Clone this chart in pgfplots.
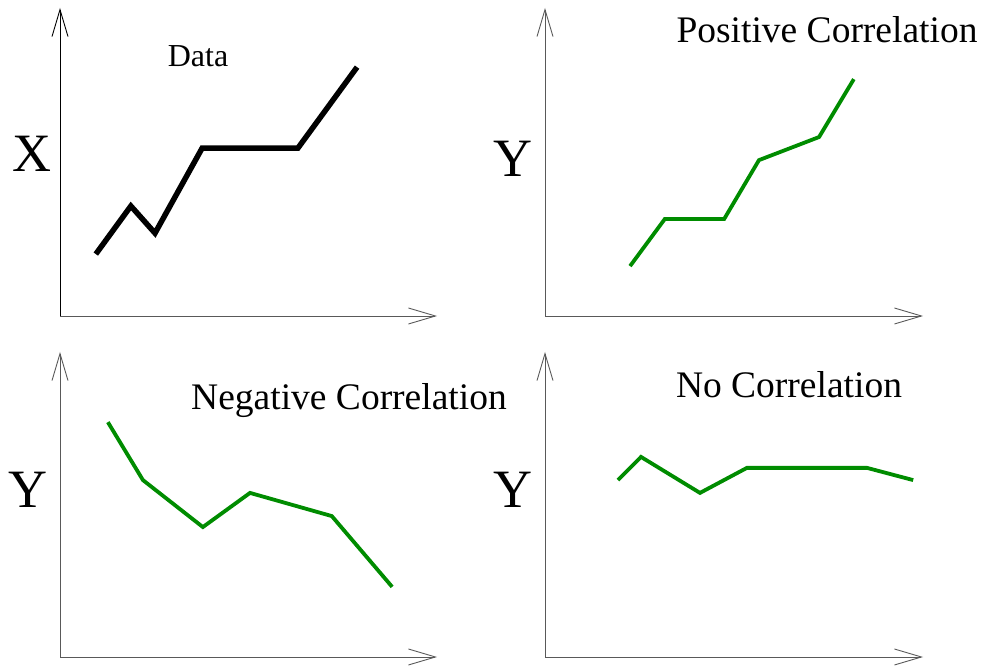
\documentclass[border=0pt]{standalone}
\usepackage{fontspec}
\setmainfont{Liberation Serif}
\usepackage{pgfplots}
\pgfplotsset{compat=1.18}
\usetikzlibrary{arrows.meta}
\definecolor{figgreen}{RGB}{0,140,0}

\pgfplotsset{
  panel/.style={
    scale only axis,
    anchor=south west,
    axis lines=left,
    xmin=0, xmax=10, ymin=0, ymax=10,
    ticks=none,
    clip=false,
    axis line style={draw=black!65, line width=0.9pt},
    every outer x axis line/.append style={-{Straight Barb[length=27pt,width=16pt,line width=0.9pt]}},
    every outer y axis line/.append style={-{Straight Barb[length=27pt,width=16pt,line width=0.9pt]}},
  },
  green line/.style={figgreen, line width=3.8pt, line join=miter, mark=none},
}

\newcommand{\bigfont}{\fontsize{54}{60}\selectfont}
\newcommand{\ttlfont}{\fontsize{37.5}{42}\selectfont}

\begin{document}
\begin{tikzpicture}
\path[use as bounding box] (0,0) rectangle (985pt,666pt);

% top left: the data
\begin{axis}[panel, at={(60pt,350pt)}, width=377pt, height=308pt,
  every outer y axis line/.append style={draw=black}]
\addplot[black, line width=5.5pt, line join=miter, mark=none] coordinates {
  (0.95,2.01) (1.88,3.57) (2.52,2.69) (3.77,5.45) (6.31,5.45) (7.88,8.08)
};
\end{axis}

% top right: positive correlation
\begin{axis}[panel, at={(545pt,350pt)}, width=378pt, height=308pt]
\addplot[green line] coordinates {
  (2.25,1.62) (3.17,3.15) (4.74,3.15) (5.66,5.06) (7.25,5.81) (8.17,7.69)
};
\end{axis}

% bottom left: negative correlation
\begin{axis}[panel, at={(60pt,9pt)}, width=377pt, height=305pt]
\addplot[green line] coordinates {
  (1.27,7.70) (2.20,5.80) (3.79,4.26) (5.04,5.38) (7.21,4.62) (8.81,2.30)
};
\end{axis}

% bottom right: no correlation
\begin{axis}[panel, at={(545pt,9pt)}, width=378pt, height=305pt]
\addplot[green line] coordinates {
  (1.93,5.80) (2.54,6.56) (4.10,5.38) (5.34,6.20) (8.52,6.20) (9.74,5.80)
};
\end{axis}

% labels
\node[anchor=base, inner sep=0pt] at (32pt,494pt) {\bigfont X};
\node[anchor=base, inner sep=0pt] at (198pt,599pt) {\fontsize{32}{36}\selectfont Data};
\node[anchor=base, inner sep=0pt] at (513pt,489pt) {\bigfont Y};
\node[anchor=base, inner sep=0pt] at (827pt,623pt) {\ttlfont Positive Correlation};
\node[anchor=base, inner sep=0pt] at (28pt,158pt) {\bigfont Y};
\node[anchor=base, inner sep=0pt] at (349pt,256pt) {\ttlfont Negative Correlation};
\node[anchor=base, inner sep=0pt] at (513pt,158pt) {\bigfont Y};
\node[anchor=base, inner sep=0pt] at (789pt,268pt) {\ttlfont No Correlation};
\end{tikzpicture}
\end{document}
